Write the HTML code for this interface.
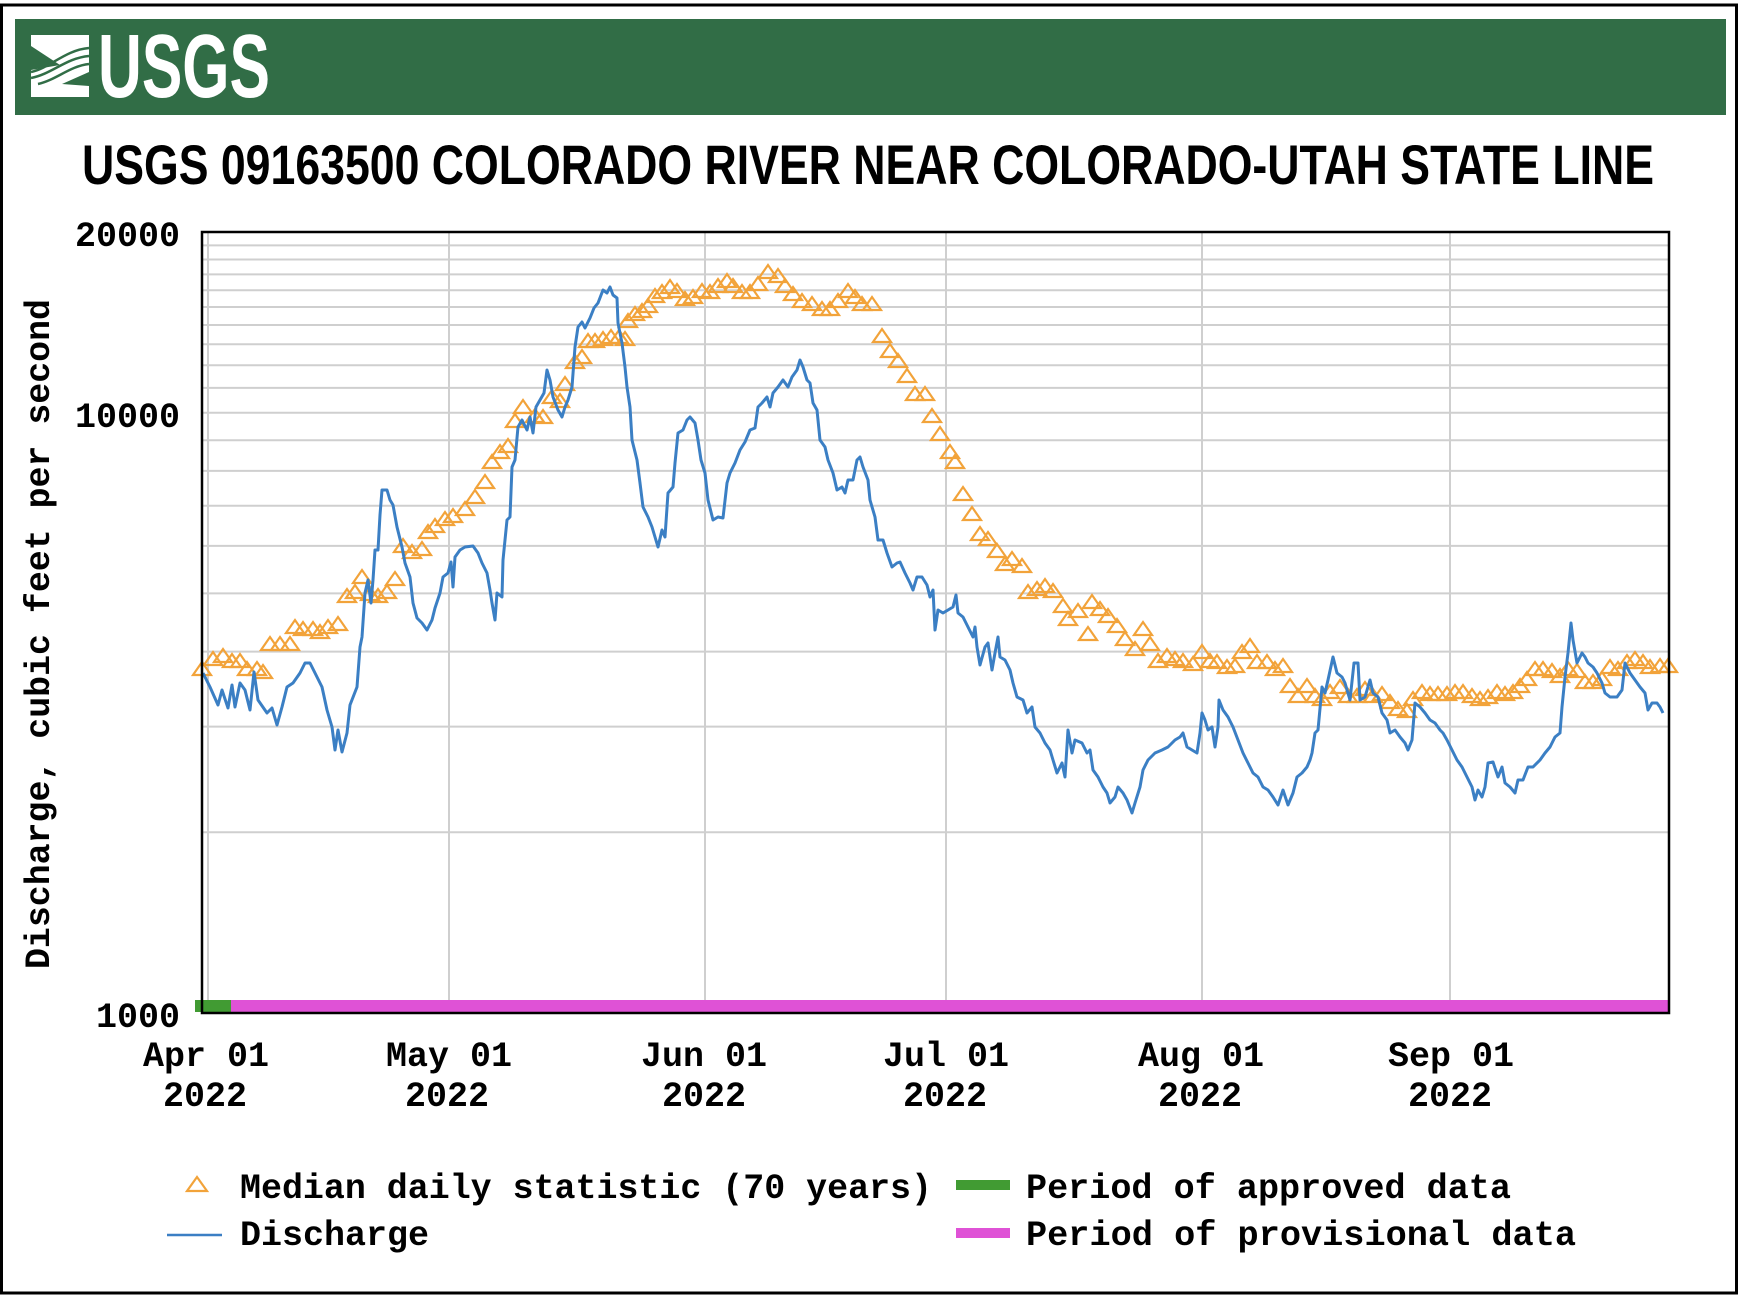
<!DOCTYPE html>
<html>
<head>
<meta charset="utf-8">
<style>
html,body{margin:0;padding:0;background:#fff;}
svg{display:block;}
.mono{font-family:"Liberation Mono","DejaVu Sans Mono",monospace;font-weight:bold;font-size:35px;fill:#000;}
</style>
</head>
<body>
<svg width="1746" height="1300" viewBox="0 0 1746 1300" xmlns="http://www.w3.org/2000/svg">
<defs>
<marker id="tri" markerWidth="24" markerHeight="20" refX="11" refY="10" markerUnits="userSpaceOnUse" orient="0" style="overflow:visible">
<path d="M2,15 L11,2 L20,15 Z" fill="none" stroke="#f2a33a" stroke-width="2.2" stroke-linejoin="miter"/>
</marker>
</defs>
<rect x="0" y="0" width="1746" height="1300" fill="#fff"/>
<rect x="1.5" y="5" width="1735" height="1288" fill="none" stroke="#000" stroke-width="3"/>
<rect x="15" y="19" width="1711" height="96" fill="#316d46"/>
<rect x="31" y="35" width="58" height="62" fill="#fff"/>
<polygon points="31,46 60,65 31,70" fill="#316d46"/>
<path d="M31,72 C50,68 65,50 89,48" stroke="#316d46" stroke-width="2.5" fill="none"/>
<path d="M31,78 C52,74 66,58 89,56" stroke="#316d46" stroke-width="2.5" fill="none"/>
<path d="M38,84 C56,80 70,66 89,64" stroke="#316d46" stroke-width="2.5" fill="none"/>
<polygon points="89,72 62,84 89,86" fill="#316d46"/>
<text x="98" y="97" fill="#fff" font-family="Liberation Sans, sans-serif" font-weight="bold" font-size="90" textLength="172" lengthAdjust="spacingAndGlyphs">USGS</text>
<text x="82" y="184" fill="#000" font-family="Liberation Sans, sans-serif" font-weight="bold" font-size="56" textLength="1572" lengthAdjust="spacingAndGlyphs">USGS 09163500 COLORADO RIVER NEAR COLORADO-UTAH STATE LINE</text>

<g stroke="#cfcfcf" stroke-width="2">
<line x1="202" x2="1669" y1="245.4" y2="245.4"/>
<line x1="202" x2="1669" y1="259.5" y2="259.5"/>
<line x1="202" x2="1669" y1="274.4" y2="274.4"/>
<line x1="202" x2="1669" y1="290.2" y2="290.2"/>
<line x1="202" x2="1669" y1="307" y2="307"/>
<line x1="202" x2="1669" y1="325" y2="325"/>
<line x1="202" x2="1669" y1="344.3" y2="344.3"/>
<line x1="202" x2="1669" y1="365.2" y2="365.2"/>
<line x1="202" x2="1669" y1="387.9" y2="387.9"/>
<line x1="202" x2="1669" y1="412.7" y2="412.7"/>
<line x1="202" x2="1669" y1="440.2" y2="440.2"/>
<line x1="202" x2="1669" y1="470.9" y2="470.9"/>
<line x1="202" x2="1669" y1="505.7" y2="505.7"/>
<line x1="202" x2="1669" y1="545.9" y2="545.9"/>
<line x1="202" x2="1669" y1="593.4" y2="593.4"/>
<line x1="202" x2="1669" y1="651.6" y2="651.6"/>
<line x1="202" x2="1669" y1="726.6" y2="726.6"/>
<line x1="202" x2="1669" y1="832.3" y2="832.3"/>
<line x1="208" x2="208" y1="232" y2="1000"/>
<line x1="449" x2="449" y1="232" y2="1000"/>
<line x1="705" x2="705" y1="232" y2="1000"/>
<line x1="946" x2="946" y1="232" y2="1000"/>
<line x1="1202" x2="1202" y1="232" y2="1000"/>
<line x1="1450" x2="1450" y1="232" y2="1000"/>
</g>

<rect x="231" y="1000" width="1438" height="12" fill="#df52d6"/>
<rect x="195" y="1000" width="36" height="12" fill="#419b33"/>

<polyline fill="none" stroke="none" marker-start="url(#tri)" marker-mid="url(#tri)" marker-end="url(#tri)" points="202,670 213,660 223,657 232,662 240,662 247,670 257,670 263,673 270,645 280,645 290,645 295,628 303,630 313,630 320,633 328,628 338,625 347,597 355,593 362,578 370,595 378,597 387,593 395,580 403,547 412,553 422,550 428,533 435,527 445,520 453,517 465,510 475,498 485,483 492,463 500,453 508,447 515,422 523,408 535,417 543,418 552,398 560,402 565,385 575,363 582,358 588,342 595,342 603,340 611,338 619,338 625,340 628,322 635,315 642,312 648,307 655,297 662,293 670,288 677,292 685,300 693,298 702,292 710,293 718,287 727,282 733,287 742,293 750,293 758,285 768,273 778,277 785,287 793,295 802,302 812,305 822,310 830,310 838,302 848,292 855,298 862,305 872,305 882,337 890,352 898,362 907,377 915,395 925,395 932,417 940,435 950,453 955,463 963,495 972,515 980,535 988,540 997,552 1005,565 1012,560 1022,567 1028,593 1037,590 1045,587 1053,592 1063,607 1068,620 1078,612 1088,635 1092,603 1100,610 1108,617 1117,627 1125,640 1135,650 1143,630 1150,645 1158,662 1167,657 1175,660 1183,662 1193,665 1202,653 1210,662 1217,663 1227,668 1235,667 1242,653 1250,647 1257,663 1267,663 1275,670 1283,667 1290,687 1298,697 1307,687 1315,697 1322,700 1330,693 1340,688 1348,697 1357,697 1365,690 1373,697 1382,695 1390,703 1398,710 1407,712 1413,700 1422,693 1430,695 1438,695 1447,695 1455,693 1463,693 1472,697 1480,700 1488,698 1497,693 1505,695 1513,693 1520,687 1527,680 1535,670 1543,670 1552,672 1560,677 1568,670 1577,672 1585,683 1593,683 1602,680 1610,668 1618,670 1627,663 1635,660 1643,663 1650,668 1660,667 1668,667"/>

<polyline fill="none" stroke="#3b7fc4" stroke-width="3" stroke-linejoin="round" points="203,673 210,687 218,705 222,690 228,708 232,685 235,707 240,683 245,690 250,710 254,672 258,700 267,713 272,708 277,725 282,707 287,687 293,683 300,673 305,663 310,663 315,673 322,687 327,710 332,727 335,750 338,730 342,752 347,733 350,705 357,687 360,647 362,637 365,593 368,580 371,603 373,580 375,550 378,550 380,515 382,490 387,490 390,500 393,505 397,527 402,547 405,563 410,577 413,603 417,618 422,623 427,630 432,620 435,608 440,593 443,577 448,573 451,562 453,587 455,557 460,550 465,547 473,546 478,553 482,563 487,573 490,590 492,603 495,620 497,593 502,597 503,560 507,520 510,517 512,467 515,460 518,427 522,420 527,430 530,417 533,433 536,407 540,400 544,393 547,370 550,380 553,397 558,410 562,417 565,407 568,400 572,387 575,347 578,327 582,322 585,328 590,318 594,308 598,303 603,290 607,293 610,287 613,295 617,298 618,323 622,343 625,367 627,387 630,407 632,440 637,460 640,483 643,507 648,517 652,527 655,537 658,547 662,530 665,537 668,493 673,487 675,463 678,433 683,430 687,420 690,417 695,423 698,440 701,460 705,473 708,500 713,520 718,517 723,518 727,483 730,473 735,463 740,450 745,442 750,430 755,428 758,407 762,403 767,397 770,407 773,393 778,387 783,380 788,387 792,377 797,370 800,360 803,367 807,380 810,383 813,403 817,410 820,440 825,447 828,460 833,473 837,490 842,487 845,493 848,480 853,480 857,460 860,457 863,467 868,480 870,500 875,517 878,540 883,540 887,553 892,567 897,563 900,562 905,573 910,583 913,590 917,577 922,577 927,585 930,597 933,590 935,630 938,610 943,613 948,610 953,607 956,595 958,613 963,617 968,627 973,637 975,627 977,647 980,665 985,647 988,643 992,670 995,653 998,637 1000,657 1005,660 1010,670 1013,683 1017,697 1023,700 1027,713 1032,707 1035,727 1040,733 1045,743 1050,750 1053,760 1057,773 1062,763 1065,777 1068,730 1072,753 1075,740 1082,743 1087,753 1090,750 1093,770 1098,777 1103,787 1107,793 1110,803 1115,797 1118,787 1123,793 1127,800 1132,813 1135,803 1140,787 1143,770 1148,760 1155,753 1162,750 1168,747 1175,740 1180,737 1183,733 1187,747 1192,750 1197,753 1200,733 1202,713 1205,720 1208,730 1212,727 1215,747 1218,727 1219,700 1223,710 1228,717 1233,727 1238,740 1243,753 1248,763 1253,773 1258,777 1263,787 1268,790 1273,797 1278,805 1283,790 1288,805 1293,793 1297,777 1302,773 1307,767 1310,760 1312,753 1315,733 1318,730 1322,687 1325,693 1328,680 1333,657 1337,673 1342,677 1345,683 1350,700 1354,663 1358,663 1360,700 1365,697 1370,680 1373,693 1378,697 1382,713 1387,720 1390,733 1395,730 1400,737 1405,743 1408,750 1412,740 1415,703 1420,707 1425,713 1430,720 1435,723 1440,730 1443,733 1447,740 1452,750 1457,760 1462,767 1467,777 1472,787 1475,800 1478,790 1482,797 1485,787 1488,763 1493,762 1498,777 1502,767 1505,783 1510,787 1515,793 1518,780 1523,780 1528,767 1533,767 1540,760 1545,753 1550,747 1555,737 1560,733 1562,707 1565,677 1568,653 1571,623 1573,640 1577,663 1582,653 1585,657 1588,663 1593,667 1597,673 1602,683 1605,693 1610,697 1617,697 1622,690 1625,663 1630,673 1635,680 1640,687 1645,693 1648,710 1652,703 1657,703 1660,707 1663,713"/>

<rect x="202" y="232" width="1467" height="781" fill="none" stroke="#000" stroke-width="2.5"/>

<text class="mono" x="180" y="246" text-anchor="end">20000</text>
<text class="mono" x="180" y="427" text-anchor="end">10000</text>
<text class="mono" x="180" y="1027" text-anchor="end">1000</text>

<text class="mono" x="206" y="1066" text-anchor="middle">Apr 01</text>
<text class="mono" x="205" y="1106" text-anchor="middle">2022</text>
<text class="mono" x="449" y="1066" text-anchor="middle">May 01</text>
<text class="mono" x="447" y="1106" text-anchor="middle">2022</text>
<text class="mono" x="704" y="1066" text-anchor="middle">Jun 01</text>
<text class="mono" x="704" y="1106" text-anchor="middle">2022</text>
<text class="mono" x="946" y="1066" text-anchor="middle">Jul 01</text>
<text class="mono" x="945" y="1106" text-anchor="middle">2022</text>
<text class="mono" x="1201" y="1066" text-anchor="middle">Aug 01</text>
<text class="mono" x="1200" y="1106" text-anchor="middle">2022</text>
<text class="mono" x="1451" y="1066" text-anchor="middle">Sep 01</text>
<text class="mono" x="1450" y="1106" text-anchor="middle">2022</text>

<text class="mono" transform="translate(49,634) rotate(-90)" text-anchor="middle" textLength="670" lengthAdjust="spacingAndGlyphs">Discharge, cubic feet per second</text>

<path d="M187,1191 L197,1177 L207,1191 Z" fill="none" stroke="#f2a33a" stroke-width="2.2"/>
<text class="mono" x="240" y="1198" textLength="692" lengthAdjust="spacingAndGlyphs">Median daily statistic (70 years)</text>
<line x1="167" x2="222" y1="1235" y2="1235" stroke="#3b7fc4" stroke-width="2.6"/>
<text class="mono" x="240" y="1245" textLength="189" lengthAdjust="spacingAndGlyphs">Discharge</text>
<rect x="956" y="1180" width="54" height="10" fill="#419b33"/>
<text class="mono" x="1026" y="1198" textLength="485" lengthAdjust="spacingAndGlyphs">Period of approved data</text>
<rect x="956" y="1228" width="54" height="10" fill="#df52d6"/>
<text class="mono" x="1026" y="1245" textLength="550" lengthAdjust="spacingAndGlyphs">Period of provisional data</text>
</svg>
</body>
</html>
